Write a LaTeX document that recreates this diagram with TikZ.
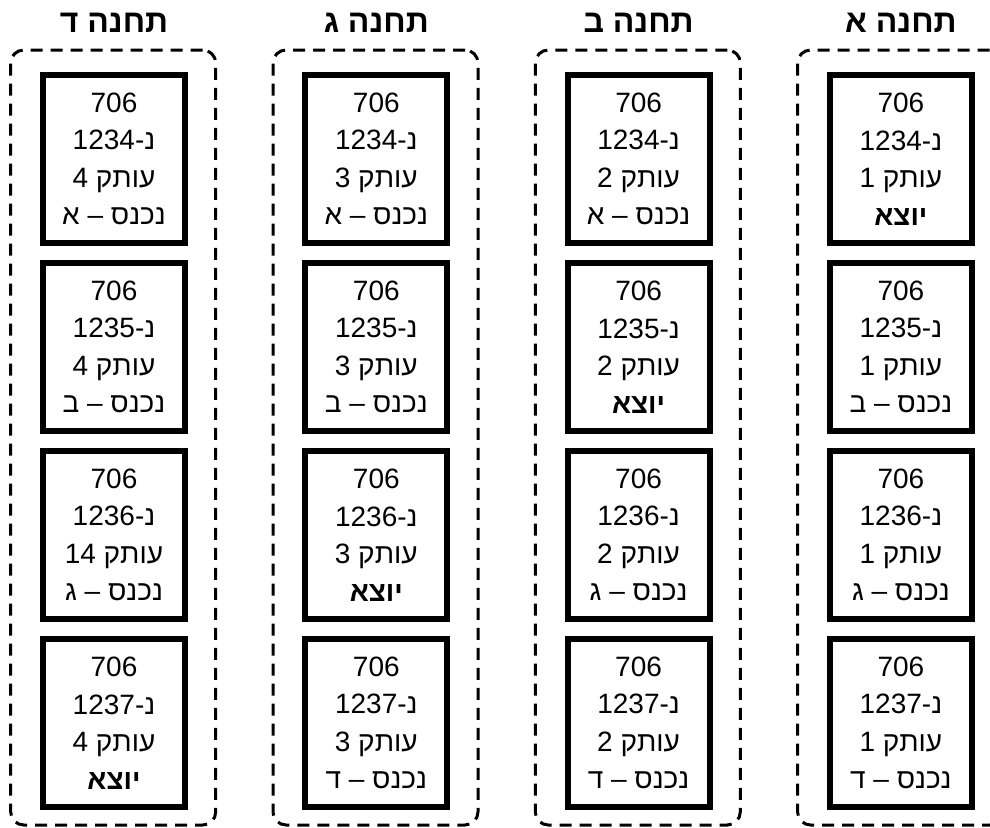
\documentclass[tikz,border=0pt]{standalone}
\usepackage{fontspec}
\setmainfont{Liberation Sans}
\TeXXeTstate=1

% card lines: train number, car number, copy number, status
\newcommand\cardtext[3]{706\\\beginR נ\kern0pt-\beginL #1\endL\endR\\\beginR עותק \beginL #2\endL\endR\\#3}
\newcommand\inlabel[1]{\beginR נכנס – #1\endR}
\newcommand\outlabel{{\bfseries\beginR יוצא\endR}}

\tikzset{
  station/.style={draw, line width=3pt, dash pattern=on 12pt off 8pt,
    rounded corners=13pt, minimum width=205pt, minimum height=775pt, inner sep=0pt},
  card/.style={draw, line width=6pt, minimum width=142pt, minimum height=168pt,
    inner sep=0pt, align=center, font=\fontsize{28}{37.5}\selectfont},
  heading/.style={font=\bfseries\fontsize{32}{36}\selectfont, inner sep=0pt, anchor=base},
}

\begin{document}
\begin{tikzpicture}[x=1pt,y=-1pt]
\useasboundingbox (0,0) rectangle (990,827);

% column centres
\def\xd{114}\def\xg{376.3}\def\xb{638.6}\def\xa{900.9}
% row centres
\def\ya{159}\def\yb{347}\def\yc{535}\def\yd{723}

% station frames
\node[station] (fd) at (\xd-0.8,437.5) {};
\node[station] (fg) at (\xg-0.8,437.5) {};
\node[station] (fb) at (\xb-0.8,437.5) {};
\node[station] (fa) at (\xa-0.8,437.5) {};

% station titles
\node[heading] (td) at (\xd,32) {\beginR תחנה ד\endR};
\node[heading] (tg) at (\xg,32) {\beginR תחנה ג\endR};
\node[heading] (tb) at (\xb,32) {\beginR תחנה ב\endR};
\node[heading] (ta) at (\xa,32) {\beginR תחנה א\endR};

% station D
\node[card] (d1) at (\xd,\ya) {\cardtext{1234}{4}{\inlabel{א}}};
\node[card] (d2) at (\xd,\yb) {\cardtext{1235}{4}{\inlabel{ב}}};
\node[card] (d3) at (\xd,\yc) {\cardtext{1236}{14}{\inlabel{ג}}};
\node[card] (d4) at (\xd,\yd) {\cardtext{1237}{4}{\outlabel}};

% station G
\node[card] (g1) at (\xg,\ya) {\cardtext{1234}{3}{\inlabel{א}}};
\node[card] (g2) at (\xg,\yb) {\cardtext{1235}{3}{\inlabel{ב}}};
\node[card] (g3) at (\xg,\yc) {\cardtext{1236}{3}{\outlabel}};
\node[card] (g4) at (\xg,\yd) {\cardtext{1237}{3}{\inlabel{ד}}};

% station B
\node[card] (b1) at (\xb,\ya) {\cardtext{1234}{2}{\inlabel{א}}};
\node[card] (b2) at (\xb,\yb) {\cardtext{1235}{2}{\outlabel}};
\node[card] (b3) at (\xb,\yc) {\cardtext{1236}{2}{\inlabel{ג}}};
\node[card] (b4) at (\xb,\yd) {\cardtext{1237}{2}{\inlabel{ד}}};

% station A
\node[card] (a1) at (\xa,\ya) {\cardtext{1234}{1}{\outlabel}};
\node[card] (a2) at (\xa,\yb) {\cardtext{1235}{1}{\inlabel{ב}}};
\node[card] (a3) at (\xa,\yc) {\cardtext{1236}{1}{\inlabel{ג}}};
\node[card] (a4) at (\xa,\yd) {\cardtext{1237}{1}{\inlabel{ד}}};
\end{tikzpicture}
\end{document}
